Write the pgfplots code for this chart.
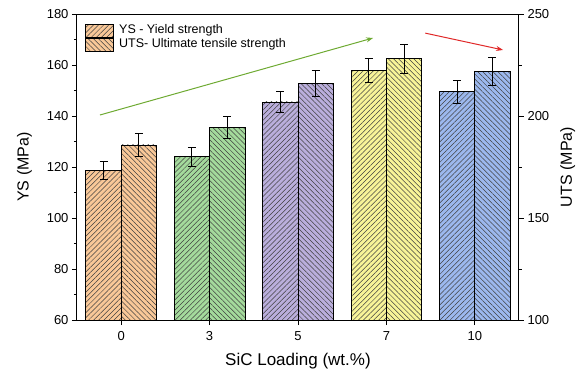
\documentclass[border=0pt]{standalone}
\usepackage{fontspec}
\setmainfont{Liberation Sans}
\usepackage{pgfplots}
\pgfplotsset{compat=1.18}
\usetikzlibrary{patterns.meta,arrows.meta}

\definecolor{corange}{HTML}{F9C898}
\definecolor{cgreen}{HTML}{A4DA9C}
\definecolor{cpurple}{HTML}{BAAEDC}
\definecolor{cyellow}{HTML}{F8F498}
\definecolor{cblue}{HTML}{9CB8EE}
\definecolor{agreen}{HTML}{6EAA32}
\definecolor{ared}{HTML}{E02828}

\pgfplotsset{
  common/.style={scale only axis, width=442pt, height=306pt,
    xmin=-0.5, xmax=4.5,
    /pgf/number format/assume math mode=true,
    tick align=outside,
    tick style={black, line width=0.8pt},
    major tick length=5pt, minor tick length=3pt,
    ticklabel style={font=\fontsize{13}{15}\selectfont},
    axis line style={line width=1pt}},
  barbase/.style n args={2}{ybar, bar width=0.4, bar shift=0pt, draw=black, line width=0.8pt, fill=#1,
    postaction={pattern={Lines[angle=#2,distance=3.6pt,line width=0.5pt]}, pattern color=black!75},
    error bars/y dir=both, error bars/y explicit,
    error bars/error bar style={line width=1pt,black},
    error bars/error mark options={rotate=90,mark size=4pt,line width=1pt,black}},
  ys/.style={barbase={#1}{45}},
  uts/.style={barbase={#1}{-45}},
}

\begin{document}
\begin{tikzpicture}
\path[use as bounding box] (-77pt,-53pt) rectangle (504pt,320pt);
\begin{axis}[common,
  ymin=60, ymax=180, ytick={60,80,...,180}, minor y tick num=1,
  xtick={0,1,2,3,4}, xticklabels={0,3,5,7,10},
  xtick pos=bottom, ytick pos=left,
  xticklabel style={yshift=-3pt},
  xlabel={SiC Loading (wt.\%)}, ylabel={YS (MPa)},
  xlabel style={font=\fontsize{17}{19}\selectfont, at={(axis description cs:0.5,-0.134)}, anchor=center},
  ylabel style={font=\fontsize{16}{18}\selectfont, at={(axis description cs:-0.119,0.5)}, anchor=center, rotate=0},
  legend style={draw=none, fill=none, at={(0.017,0.967)}, anchor=north west,
    font=\fontsize{12.5}{14}\selectfont, row sep=0pt, inner sep=0pt,
    nodes={inner sep=0.5pt, text height=8.5pt, text depth=3.5pt}},
  legend cell align=left,
  legend image code/.code={\draw[#1] (0pt,-6.5pt) rectangle (28pt,6.5pt); \path (33pt,0pt);},
]
\addplot[forget plot, ys=corange] coordinates {(-0.2,118.5) +- (0,3.5)};
\addplot[forget plot, ys=cgreen] coordinates {(0.8,124.0) +- (0,3.7)};
\addplot[forget plot, ys=cpurple] coordinates {(1.8,145.5) +- (0,4.0)};
\addplot[forget plot, ys=cyellow] coordinates {(2.8,158.0) +- (0,4.7)};
\addplot[forget plot, ys=cblue] coordinates {(3.8,149.5) +- (0,4.5)};
\addlegendimage{fill=corange, draw=black, line width=1pt, postaction={pattern={Lines[angle=45,distance=3.6pt,line width=0.5pt]}, pattern color=black!75}}
\addlegendentry{YS - Yield strength}
\addlegendimage{fill=corange, draw=black, line width=1pt, postaction={pattern={Lines[angle=-45,distance=3.6pt,line width=0.5pt]}, pattern color=black!75}}
\addlegendentry{UTS- Ultimate tensile strength}
\draw[-{Stealth[length=7pt,width=5pt]}, color=agreen, line width=1pt] (axis cs:-0.24,140.4) -- (axis cs:2.85,170.6);
\draw[-{Stealth[length=7pt,width=5pt]}, color=ared, line width=1pt] (axis cs:3.44,172.5) -- (axis cs:4.32,165.9);
\end{axis}
\begin{axis}[common,
  axis x line=none, axis y line*=right,
  ymin=100, ymax=250, ytick={100,150,200,250}, minor y tick num=1,
  ylabel={UTS (MPa)},
  ylabel style={font=\fontsize{16}{18}\selectfont, at={(axis description cs:1.11,0.5)}, anchor=center, rotate=0},
]
\addplot[uts=corange] coordinates {(0.2,185.8) +- (0,5.5)};
\addplot[uts=cgreen] coordinates {(1.2,194.4) +- (0,5.6)};
\addplot[uts=cpurple] coordinates {(2.2,216.0) +- (0,6.5)};
\addplot[uts=cyellow] coordinates {(3.2,228.0) +- (0,7.0)};
\addplot[uts=cblue] coordinates {(4.2,221.7) +- (0,6.8)};
\end{axis}
\end{tikzpicture}
\end{document}
